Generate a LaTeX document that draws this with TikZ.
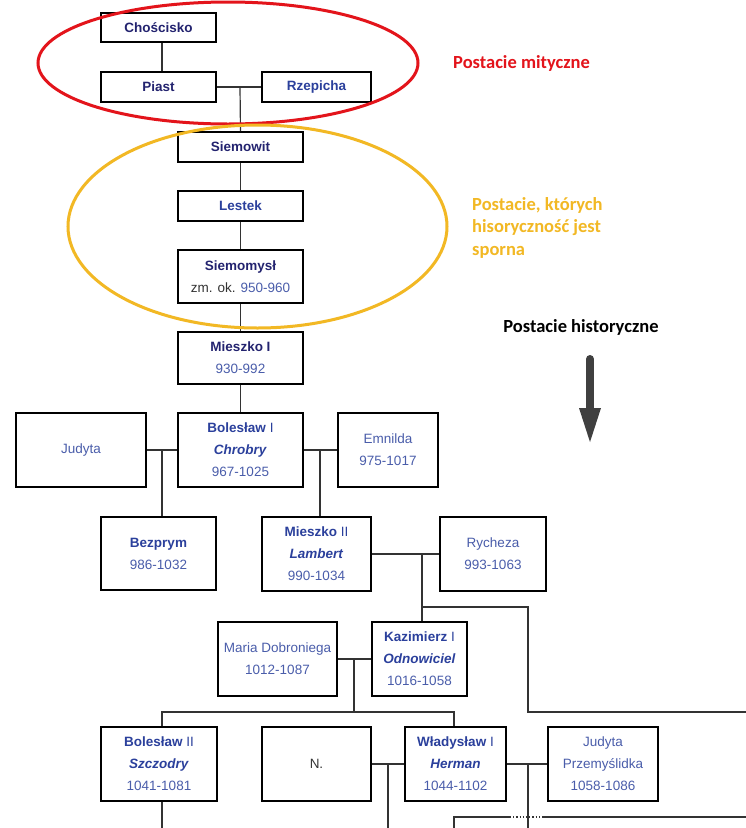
\documentclass[tikz,border=0pt]{standalone}
\usepackage{fontspec}
\usetikzlibrary{shapes.geometric}
\setmainfont{Liberation Sans}
\newfontfamily\calibfont{Carlito}
\definecolor{dkname}{HTML}{23236F}
\definecolor{blname}{HTML}{2B409C}
\definecolor{dtcol}{HTML}{4A5DAA}
\definecolor{txgray}{HTML}{333333}
\definecolor{myred}{HTML}{E3141B}
\definecolor{myyellow}{HTML}{F2B824}
\definecolor{arrowgray}{HTML}{404040}
\newcommand\dkn[1]{\textcolor{dkname}{\textbf{#1}}}
\newcommand\bln[1]{\textcolor{blname}{\textbf{#1}}}
\newcommand\blit[1]{\textcolor{blname}{\textbf{\textit{#1}}}}
\newcommand\dtx[1]{\textcolor{dtcol}{#1}}
\begin{document}
\begin{tikzpicture}[x=1pt,y=-1pt,
  famebox/.style={draw=black, line width=1.8pt, fill=white, inner sep=0pt, align=center,
    font=\fontsize{13.5}{22}\selectfont, text=dtcol},
  conn/.style={draw=txgray, line width=1.2pt},
  lbl/.style={font=\calibfont\bfseries\fontsize{18.5}{22.5}\selectfont, inner sep=0pt}]
\useasboundingbox (0,0) rectangle (746,828);
\fill[white] (0,0) rectangle (746,828);

% nodes
\node[famebox, minimum width=115, minimum height=29] (chos) at (158.5,27.5) {\dkn{Chościsko}};
\node[famebox, minimum width=115, minimum height=30] (piast) at (158.5,87) {\dkn{Piast}};
\node[famebox, minimum width=109, minimum height=30] (rzep) at (316.5,87) {\bln{Rzepicha}};
\node[famebox, minimum width=125, minimum height=30] (siemowit) at (240.5,147) {\dkn{Siemowit}};
\node[famebox, minimum width=125, minimum height=30] (lestek) at (240.5,206) {\bln{Lestek}};
\node[famebox, minimum width=125, minimum height=53] (siemomysl) at (240.5,276.5) {\dkn{Siemomysł}\\\textcolor{txgray}{zm. ok.} 950-960};
\node[famebox, minimum width=125, minimum height=52] (mieszkoA) at (240.5,358) {\dkn{Mieszko I}\\930-992};
\node[famebox, minimum width=125, minimum height=74] (bolA) at (240.5,450) {\bln{Bolesław} \textcolor{blname}{I}\\\blit{Chrobry}\\967-1025};
\node[famebox, minimum width=130, minimum height=74] (judyta) at (81,450) {Judyta};
\node[famebox, minimum width=100, minimum height=74] (emnilda) at (388,450) {Emnilda\\975-1017};
\node[famebox, minimum width=115, minimum height=73] (bezprym) at (158.5,553.5) {\bln{Bezprym}\\986-1032};
\node[famebox, minimum width=109, minimum height=74] (mieszkoB) at (316.5,554) {\bln{Mieszko} \textcolor{blname}{II}\\\blit{Lambert}\\990-1034};
\node[famebox, minimum width=106, minimum height=74] (rycheza) at (493,554) {Rycheza\\993-1063};
\node[famebox, minimum width=119, minimum height=74] (maria) at (277.5,659) {Maria Dobroniega\\1012-1087};
\node[famebox, minimum width=95, minimum height=74] (kaz) at (419.5,659) {\bln{Kazimierz} \textcolor{blname}{I}\\\blit{Odnowiciel}\\1016-1058};
\node[famebox, minimum width=116, minimum height=74] (bolB) at (159,764) {\bln{Bolesław} \textcolor{blname}{II}\\\blit{Szczodry}\\1041-1081};
\node[famebox, minimum width=109, minimum height=74] (nn) at (316.5,764) {\textcolor{txgray}{N.}};
\node[famebox, minimum width=101, minimum height=74] (wlad) at (455.5,764) {\bln{Władysław} \textcolor{blname}{I}\\\blit{Herman}\\1044-1102};
\node[famebox, minimum width=110, minimum height=74] (judytaP) at (603,764) {Judyta\\Przemyślidka\\1058-1086};

% junction coordinates
\coordinate (j0) at (162,0);
\coordinate (j1) at (240,87);
\coordinate (jA) at (162,450);
\coordinate (jB) at (320,450);
\coordinate (jC) at (422,554);
\coordinate (jD) at (422,607);
\coordinate (jE) at (528,607);
\coordinate (jF) at (528,712);
\coordinate (jG) at (746,712);
\coordinate (jH) at (354,659);
\coordinate (jI) at (354,712);
\coordinate (jJ) at (162,712);
\coordinate (jK) at (454,712);
\coordinate (jL) at (388,764);
\coordinate (jM) at (388,828);
\coordinate (jN) at (528,764);
\coordinate (jO) at (528,828);
\coordinate (jP) at (162,828);
\coordinate (jQ) at (454,817);
\coordinate (jR) at (510,817);
\coordinate (jS) at (543,817);
\coordinate (jT) at (746,817);
\coordinate (jU) at (454,828);

% connectors
\draw[conn] (chos.south -| j0) -- (piast.north -| j0);
\draw[conn] (piast.east) -- (rzep.west);
\draw[conn] (j1) -- (siemowit.north);
\draw[conn] (siemowit) -- (lestek);
\draw[conn] (lestek) -- (siemomysl);
\draw[conn] (siemomysl) -- (mieszkoA);
\draw[conn] (mieszkoA) -- (bolA);
\draw[conn] (judyta.east) -- (bolA.west);
\draw[conn] (jA) -- (bezprym.north -| jA);
\draw[conn] (bolA.east) -- (emnilda.west);
\draw[conn] (jB) -- (mieszkoB.north -| jB);
\draw[conn] (mieszkoB.east) -- (rycheza.west);
\draw[conn] (jC) -- (kaz.north -| jC);
\draw[conn] (jD) -- (jE) -- (jF) -- (jG);
\draw[conn] (maria.east) -- (kaz.west);
\draw[conn] (jH) -- (jI);
\draw[conn] (bolB.north -| jJ) -- (jJ) -- (jK) -- (wlad.north -| jK);
\draw[conn] (nn.east) -- (wlad.west);
\draw[conn] (jL) -- (jM);
\draw[conn] (wlad.east) -- (judytaP.west);
\draw[conn] (jN) -- (jO);
\draw[conn] (bolB.south -| jP) -- (jP);
\draw[conn] (jU) -- (jQ) -- (jR);
\draw[conn, dotted] (jR) -- (jS);
\draw[conn] (jS) -- (jT);

% ellipses
\node[draw=myred, line width=3pt, ellipse, minimum width=380, minimum height=122, inner sep=0pt] (redell) at (228,63) {};
\node[draw=myyellow, line width=3pt, ellipse, minimum width=379, minimum height=203, inner sep=0pt] (yelell) at (257.5,226.5) {};

% labels
\node[lbl, text=myred, anchor=west] (lmit) at (453,63) {Postacie mityczne};
\node[lbl, text=myyellow, anchor=north west, align=left] (lspor) at (472,197) {Postacie, których\\hisoryczność jest\\sporna};
\node[lbl, text=black] (lhist) at (581,327) {Postacie historyczne};

% arrow
\coordinate (aTop) at (590,359);
\coordinate (aMid) at (590,412);
\coordinate (aTip) at (590,442);
\draw[arrowgray, line width=8pt, line cap=round] (aTop) -- (aMid);
\fill[arrowgray] (579,408) -- (601,408) -- (aTip) -- cycle;
\end{tikzpicture}
\end{document}
